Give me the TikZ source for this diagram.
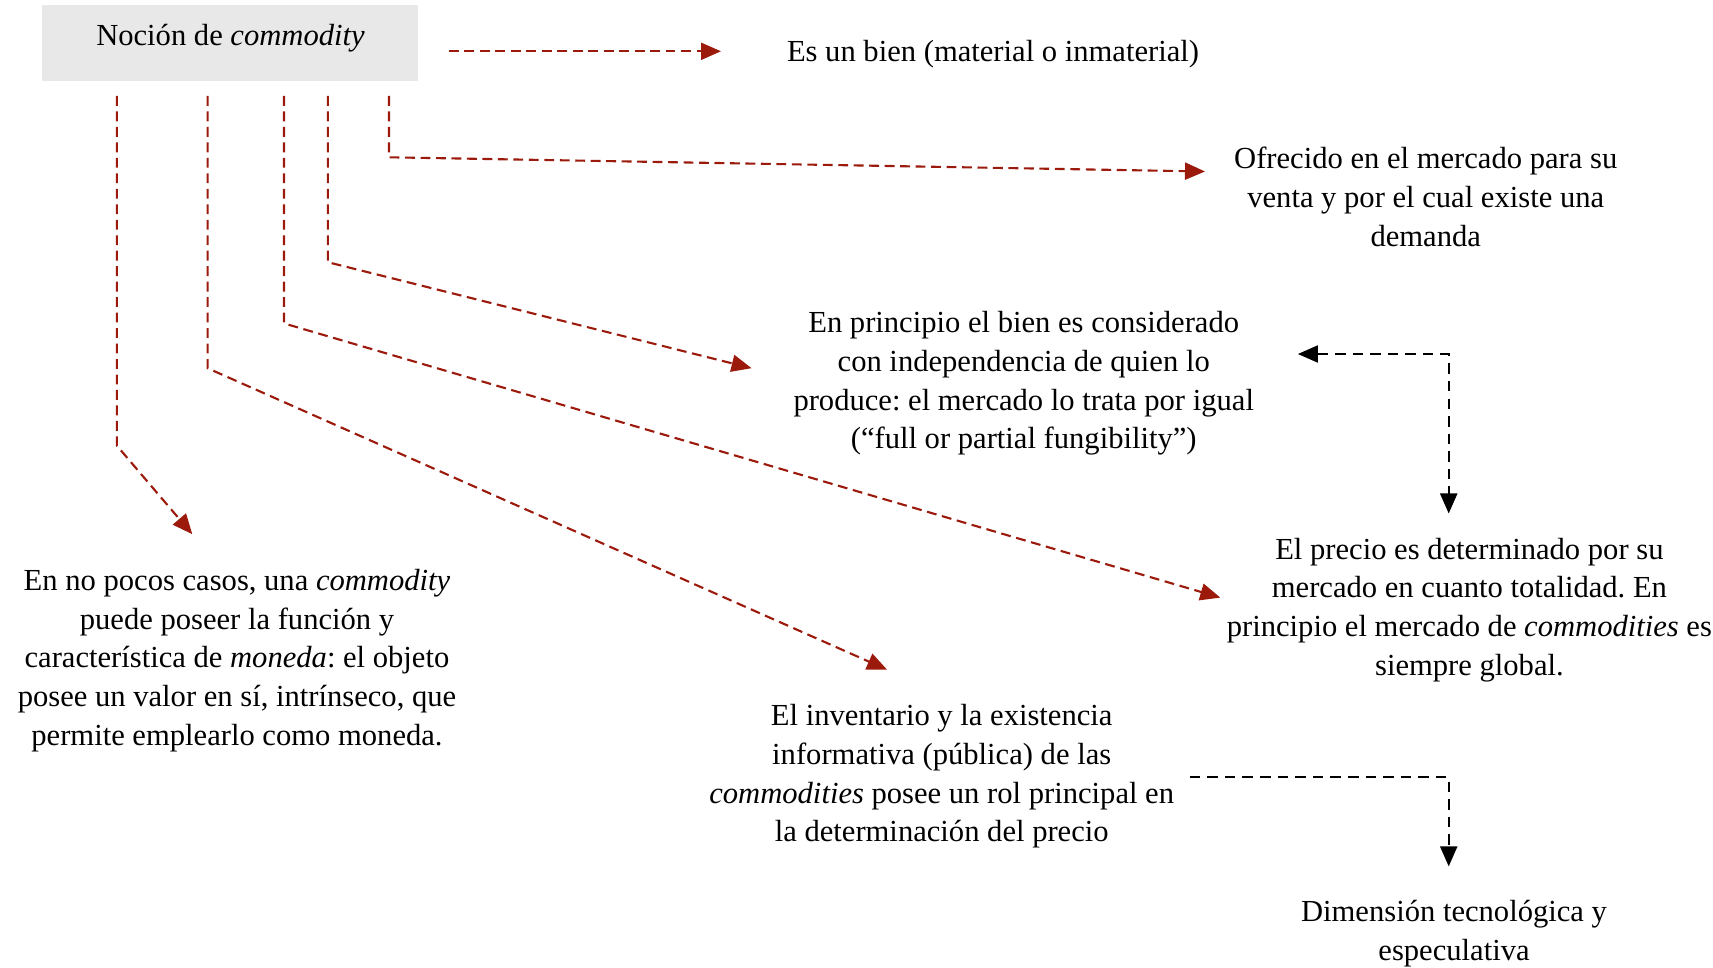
\documentclass[tikz,border=0pt]{standalone}
\usepackage{fontspec}
\setmainfont{Liberation Serif}
\usetikzlibrary{arrows.meta}
\definecolor{darkred}{RGB}{155,26,12}
\definecolor{boxgray}{RGB}{232,232,232}
\frenchspacing
\tikzset{
	txt/.style={align=center, inner sep=0pt, font=\fontsize{8.7}{11}\selectfont},
	redarrow/.style={draw=darkred, line width=0.6pt, dash pattern=on 2.8pt off 1.6pt, -{Triangle[length=2mm,width=1.7mm]}},
	blackarrow/.style={draw=black, line width=0.6pt, dash pattern=on 3pt off 2pt, -{Triangle[length=2mm,width=1.7mm]}}
}
\newcommand{\redlink}[3] % x of the drop, y of the bend, end coordinate
{
	\draw[redarrow] (#1,96) -- (#1,#2) -- (#3);
}

\begin{document}
\begin{tikzpicture}[x=0.01cm,y=-0.01cm]
	% page: 1713 x 967 px
	\useasboundingbox (0,0) rectangle (1713,967);
	
	% title box
	\fill[boxgray] (41.5,5.5) rectangle (418.4,80.8);
	\node (notion) [txt] at (230.5,38.5) {Noción de \textit{commodity}};
	
	% texts
	\node (bien) [txt] at (993,54) {Es un bien (material o inmaterial)};
	\node (ofrecido) [txt] at (1425.7,197) {Ofrecido en el mercado para su\\venta y por el cual existe una\\demanda};
	\node (principio) [txt] at (1023.7,383.5) {En principio el bien es considerado\\con independencia de quien lo\\produce: el mercado lo trata por igual\\(“full or partial fungibility”)};
	\node (precio) [txt] at (1469.4,610) {El precio es determinado por su\\mercado en cuanto totalidad. En\\principio el mercado de \textit{commodities} es\\siempre global.};
	\node (inventario) [txt] at (941.7,776.5) {El inventario y la existencia\\informativa (pública) de las\\\textit{commodities} posee un rol principal en\\la determinación del precio};
	\node (moneda) [txt] at (237,660.5) {En no pocos casos, una \textit{commodity}\\puede poseer la función y\\característica de \textit{moneda}: el objeto\\posee un valor en sí, intrínseco, que\\permite emplearlo como moneda.};
	\node (dimension) [txt] at (1454,933.5) {Dimensión tecnológica y\\especulativa};
	
	% arrow ends
	\coordinate (s1) at (449,51.3);
	\coordinate (e1) at (721,51.3);
	\coordinate (e2) at (1205,171.5);
	\coordinate (e3) at (751.6,368.2);
	\coordinate (e4) at (1220.3,597.6);
	\coordinate (e5) at (887.1,669.7);
	\coordinate (e6) at (192.3,534.2);
	
	\draw[redarrow] (s1) -- (e1);
	\redlink{389}{157.3}{e2};
	\redlink{327.8}{262.2}{e3};
	\redlink{284}{323.4}{e4};
	\redlink{207.6}{368.2}{e5};
	\redlink{116.9}{445.7}{e6};
	
	% black links
	\coordinate (pa) at (1297.9,354);
	\coordinate (pb) at (1448.7,513.5);
	\coordinate (ia) at (1189.7,776.8);
	\coordinate (ib) at (1448.7,866.4);
	\draw[blackarrow, {Triangle[length=2mm,width=1.7mm]}-{Triangle[length=2mm,width=1.7mm]}] (pa) -| (pb);
	\draw[blackarrow] (ia) -| (ib);
\end{tikzpicture}
\end{document}
